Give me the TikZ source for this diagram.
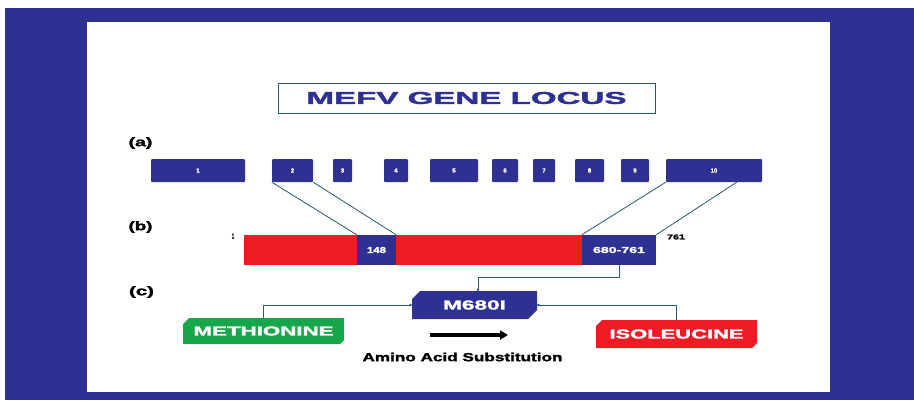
\documentclass[tikz,border=0pt]{standalone}
\usepackage{fontspec}
\setmainfont{Liberation Sans}
\newfontfamily\heavy{Liberation Sans Bold}[FakeBold=1.6]
\usepackage{graphicx}
\usetikzlibrary{arrows.meta}
\definecolor{mblue}{RGB}{46,49,146}
\definecolor{mred}{RGB}{237,28,36}
\definecolor{mgreen}{RGB}{24,166,74}
\definecolor{mline}{RGB}{40,90,105}
\newcommand{\fitt}[3]{\resizebox{#1pt}{#2pt}{\heavy #3}}
\newcommand{\chamfpath}[7]{\fill[#7] (#1,#2+#5) -- (#1+#5,#2) -- (#3,#2) -- (#3,#4-#6) -- (#3-#6,#4) -- (#1,#4) -- cycle;}
\tikzset{
  exon/.style={fill=mblue, rounded corners=1pt, inner sep=0pt, minimum height=23pt, text=white, font=\fontsize{6}{6}\selectfont\heavy},
  dom/.style={fill=mblue, inner sep=0pt, minimum height=30pt, text=white},
  conn/.style={draw=mline, line width=0.8pt},
  hold/.style={inner sep=0pt, text=white},
  lbl/.style={inner sep=0pt, text=black}
}
\begin{document}
\begin{tikzpicture}[x=1pt,y=-1pt]
\useasboundingbox (0,0) rectangle (914,400);
% background
\fill[white] (0,0) rectangle (914,400);
\fill[mblue] (5,8) rectangle (914,400);
\fill[white] (87,22) rectangle (830,392);
% title
\node[draw=mline, line width=0.9pt, fill=white, minimum width=377pt, minimum height=30pt, inner sep=0pt, text=mblue] (title) at (466.5,98) {\fitt{320}{12}{MEFV GENE LOCUS}};
% labels
\node[lbl] (la) at (140.5,143) {\fitt{24}{9}{(a)}};
\node[lbl] (lb) at (140.5,227) {\fitt{24}{9}{(b)}};
\node[lbl] (lc) at (141.5,292) {\fitt{25}{9}{(c)}};
% exons
\node[exon, minimum width=94pt] (e1) at (198,170.5) {1};
\node[exon, minimum width=41pt] (e2) at (292.5,170.5) {2};
\node[exon, minimum width=19pt] (e3) at (342.5,170.5) {3};
\node[exon, minimum width=24pt] (e4) at (396,170.5) {4};
\node[exon, minimum width=48pt] (e5) at (454,170.5) {5};
\node[exon, minimum width=26pt] (e6) at (505,170.5) {6};
\node[exon, minimum width=22pt] (e7) at (544,170.5) {7};
\node[exon, minimum width=29pt] (e8) at (589.5,170.5) {8};
\node[exon, minimum width=28pt] (e9) at (635,170.5) {9};
\node[exon, minimum width=96pt] (e10) at (714,170.5) {10};
% protein
\node[fill=mred, inner sep=0pt, minimum width=412pt, minimum height=30pt] (prot) at (450,250) {};
\node[dom, minimum width=39pt] (d148) at (376.5,250) {\fitt{19}{6}{148}};
\node[dom, minimum width=74pt] (d680) at (619,250) {\fitt{52}{6}{680-761}};
\node[lbl] (n1) at (233,236) {\fitt{2.5}{5}{1}};
\node[lbl] (n761) at (676,237) {\fitt{18}{5}{761}};
% exon to protein lines
\coordinate (e10r) at (737,182);
\draw[conn] (e2.south west) -- (d148.north west);
\draw[conn] (e2.south east) -- (d148.north east);
\draw[conn] (e10.south west) -- (d680.north west);
\draw[conn] (e10r) -- (d680.north east);
% chamfered boxes
\chamfpath{412}{291}{537}{319}{8}{9}{mblue}
\chamfpath{183}{318}{344}{344}{6}{4}{mgreen}
\chamfpath{596}{320}{757}{348}{6}{5}{mred}
\node[hold, minimum width=125pt, minimum height=28pt] (mut) at (474.5,305) {\fitt{63}{9}{M680I}};
\node[hold, minimum width=161pt, minimum height=26pt] (met) at (263.5,331) {\fitt{140}{9}{METHIONINE}};
\node[hold, minimum width=161pt, minimum height=28pt] (iso) at (676.5,334) {\fitt{134}{9}{ISOLEUCINE}};
% connectors
\coordinate (mtop) at (478,291);
\draw[conn, -{Circle[length=2.5pt]}] (d680.south) |- (478,277) -- (mtop);
\draw[conn, {Circle[length=2.5pt]}-] (mut.west) -| (met.north);
\draw[conn, {Circle[length=2.5pt]}-] (mut.east) -| (iso.north);
% substitution arrow
\coordinate (sa) at (430,335);
\coordinate (sb) at (508,335);
\draw[line width=4pt, black, -{Triangle[length=8pt,width=9pt]}] (sa) -- (sb);
\node[lbl] (sub) at (462.5,357) {\fitt{200}{8.5}{Amino Acid Substitution}};
\end{tikzpicture}
\end{document}
